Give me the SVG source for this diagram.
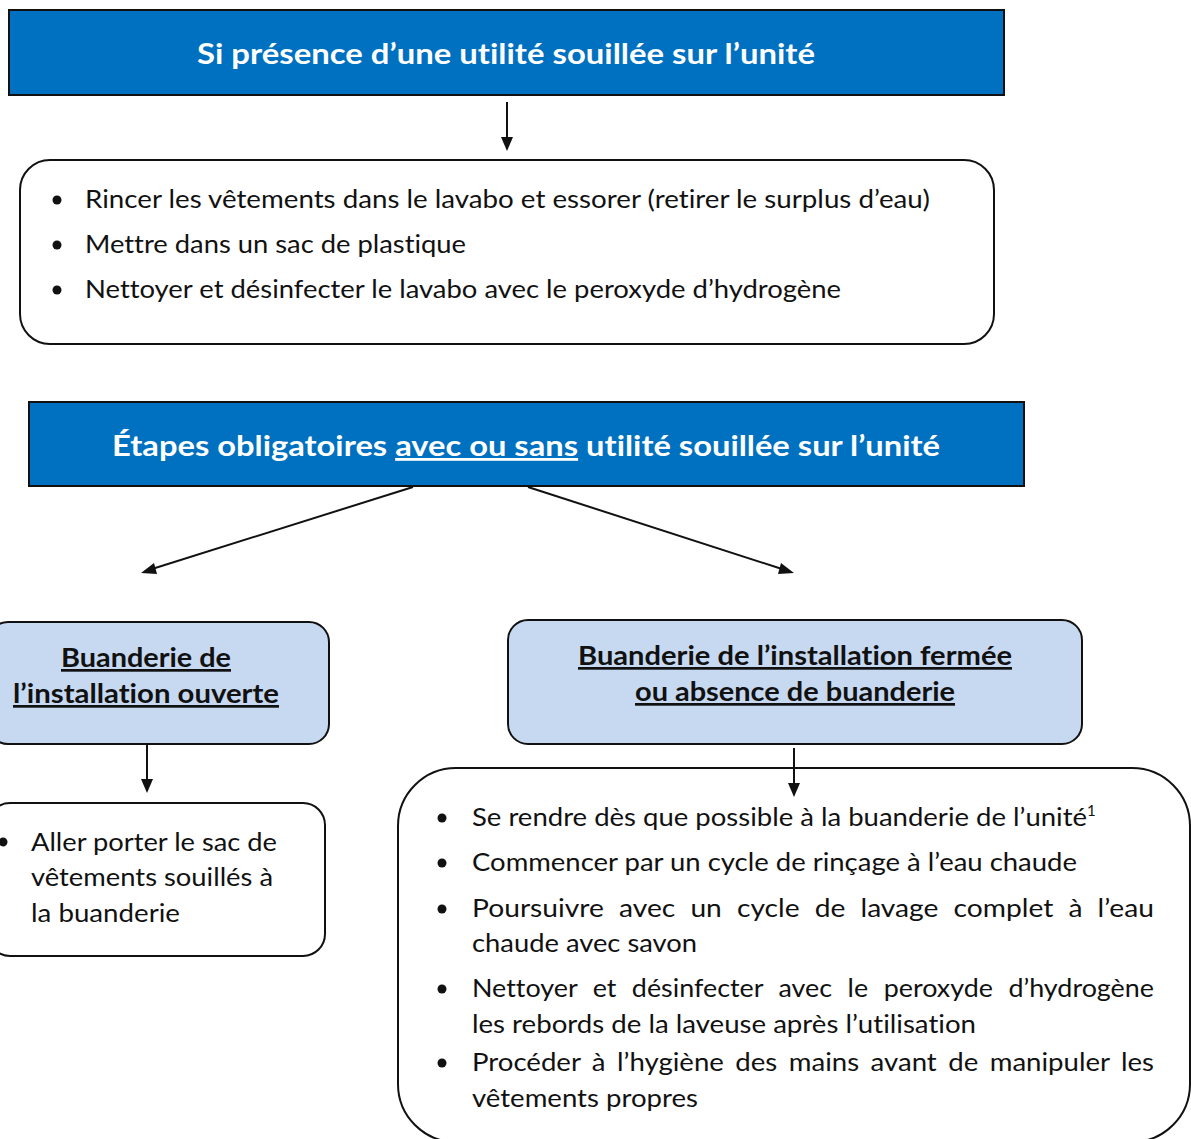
<svg xmlns="http://www.w3.org/2000/svg" width="1191" height="1139" viewBox="0 0 1191 1139">
<style>
text{font-variant-ligatures:none}
.hdr{fill:#0070C0;stroke:#111;stroke-width:2}
.sub{fill:#C6D9F1;stroke:#111;stroke-width:2}
.box{fill:#fff;stroke:#111;stroke-width:2}
.ht{font-family:Lato,"Liberation Sans",sans-serif;font-weight:bold;font-size:28px;fill:#fff}
.st{font-family:Lato,"Liberation Sans",sans-serif;font-weight:bold;font-size:27px;fill:#111;text-decoration:underline}
.bt{font-family:Lato,"Liberation Sans",sans-serif;font-size:25px;fill:#111}
.ln{stroke:#111;stroke-width:2;fill:none}
.head{fill:#111}
</style>
<rect width="1191" height="1139" fill="#fff"/>
<g id="node-si-presence">
<rect class="hdr" x="9" y="10" width="995" height="85"/>
<text class="ht" x="197" y="64" textLength="618" lengthAdjust="spacingAndGlyphs">Si présence d’une utilité souillée sur l’unité</text>
</g>
<g id="node-rincer">
<rect class="box" x="20" y="160" width="974" height="184" rx="30"/>
<circle cx="57" cy="200" r="4.5" fill="#111"/>
<circle cx="57" cy="245" r="4.5" fill="#111"/>
<circle cx="57" cy="290" r="4.5" fill="#111"/>
<text class="bt" x="85" y="208" textLength="845" lengthAdjust="spacingAndGlyphs">Rincer les vêtements dans le lavabo et essorer (retirer le surplus d’eau)</text>
<text class="bt" x="85" y="253" textLength="381" lengthAdjust="spacingAndGlyphs">Mettre dans un sac de plastique</text>
<text class="bt" x="85" y="298" textLength="756" lengthAdjust="spacingAndGlyphs">Nettoyer et désinfecter le lavabo avec le peroxyde d’hydrogène</text>
</g>
<g id="node-etapes">
<rect class="hdr" x="29" y="402" width="995" height="84"/>
<text class="ht" x="112" y="456" textLength="828" lengthAdjust="spacingAndGlyphs">Étapes obligatoires <tspan text-decoration="underline">avec ou sans</tspan> utilité souillée sur l’unité</text>
</g>
<g id="node-ouverte">
<rect class="sub" x="-12" y="622" width="341" height="122" rx="20"/>
<text class="st" x="61" y="667" textLength="170" lengthAdjust="spacingAndGlyphs">Buanderie de</text>
<text class="st" x="13" y="703" textLength="266" lengthAdjust="spacingAndGlyphs">l’installation ouverte</text>
</g>
<g id="node-aller">
<rect class="box" x="-12" y="803" width="337" height="153" rx="22"/>
<circle cx="3" cy="842" r="4.5" fill="#111"/>
<text class="bt" x="31" y="851" textLength="246" lengthAdjust="spacingAndGlyphs">Aller porter le sac de</text>
<text class="bt" x="31" y="886" textLength="242" lengthAdjust="spacingAndGlyphs">vêtements souillés à</text>
<text class="bt" x="31" y="922" textLength="149" lengthAdjust="spacingAndGlyphs">la buanderie</text>
</g>
<g id="node-fermee">
<rect class="sub" x="508" y="620" width="574" height="124" rx="20"/>
<text class="st" x="578" y="665" textLength="434" lengthAdjust="spacingAndGlyphs">Buanderie de l’installation fermée</text>
<text class="st" x="635" y="701" textLength="320" lengthAdjust="spacingAndGlyphs">ou absence de buanderie</text>
</g>
<g id="node-etapes-buanderie">
<rect class="box" x="398" y="768" width="792" height="374" rx="58"/>
<circle cx="442" cy="818" r="4.5" fill="#111"/>
<circle cx="442" cy="863" r="4.5" fill="#111"/>
<circle cx="442" cy="909" r="4.5" fill="#111"/>
<circle cx="442" cy="989" r="4.5" fill="#111"/>
<circle cx="442" cy="1063" r="4.5" fill="#111"/>
<text class="bt" x="472" y="826"><tspan textLength="615" lengthAdjust="spacingAndGlyphs">Se rendre dès que possible à la buanderie de l’unité</tspan><tspan font-size="15" dy="-10">1</tspan></text>
<text class="bt" x="472" y="871" textLength="605" lengthAdjust="spacingAndGlyphs">Commencer par un cycle de rinçage à l’eau chaude</text>
<text class="bt" x="472" y="917" word-spacing="7" textLength="682" lengthAdjust="spacingAndGlyphs">Poursuivre avec un cycle de lavage complet à l’eau</text>
<text class="bt" x="472" y="952" textLength="225" lengthAdjust="spacingAndGlyphs">chaude avec savon</text>
<text class="bt" x="472" y="997" word-spacing="8" textLength="682" lengthAdjust="spacingAndGlyphs">Nettoyer et désinfecter avec le peroxyde d’hydrogène</text>
<text class="bt" x="472" y="1033" textLength="504" lengthAdjust="spacingAndGlyphs">les rebords de la laveuse après l’utilisation</text>
<text class="bt" x="472" y="1071" word-spacing="4" textLength="682" lengthAdjust="spacingAndGlyphs">Procéder à l’hygiène des mains avant de manipuler les</text>
<text class="bt" x="472" y="1107" textLength="226" lengthAdjust="spacingAndGlyphs">vêtements propres</text>
</g>
<g id="connectors">
<line class="ln" x1="507" y1="102" x2="507" y2="138"/>
<path class="head" d="M501,137 L507,151 L513,137 z"/>
<line class="ln" x1="413" y1="487" x2="152" y2="569"/>
<path class="head" d="M141,573 L154,563 L157,574 z"/>
<line class="ln" x1="528" y1="487" x2="782" y2="569"/>
<path class="head" d="M794,573 L778,574 L781,563 z"/>
<line class="ln" x1="147" y1="745" x2="147" y2="780"/>
<path class="head" d="M141,779 L147,793 L153,779 z"/>
<line class="ln" x1="794" y1="748" x2="794" y2="784"/>
<path class="head" d="M788,783 L794,797 L800,783 z"/>
</g>
</svg>
